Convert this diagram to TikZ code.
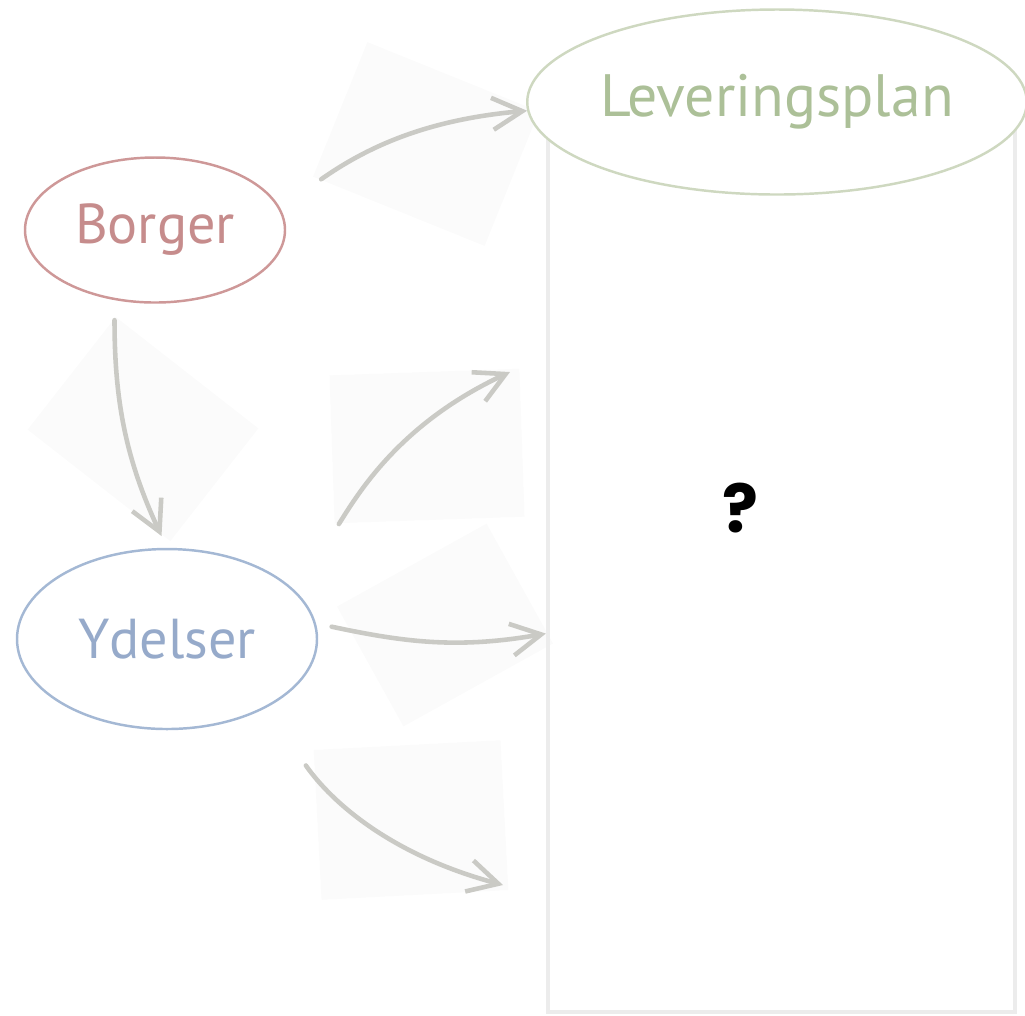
\documentclass[tikz,border=0pt]{standalone}
\usepackage{fontspec}
\newfontfamily\handfont{PT Sans}
\newfontfamily\markfont{Poppins}
\usetikzlibrary{positioning,shapes.geometric,arrows.meta}
\definecolor{borgerred}{RGB}{206,152,152}
\definecolor{borgertext}{RGB}{198,140,140}
\definecolor{plangreen}{RGB}{206,216,192}
\definecolor{plantext}{RGB}{172,192,152}
\definecolor{ydelseblue}{RGB}{164,184,212}
\definecolor{ydelsetext}{RGB}{150,170,202}
\definecolor{arrowgrey}{RGB}{202,202,197}
\definecolor{panelgrey}{RGB}{236,236,236}
\definecolor{patchgrey}{RGB}{251,251,251}
\tikzstyle{bubble} = [ellipse, draw, line width=0.7pt, inner sep=0pt, fill=white, font=\handfont\fontsize{16}{18}\selectfont]
\tikzstyle{flow} = [draw=arrowgrey, line width=1.3pt, line cap=round, -{Straight Barb[length=3mm,width=3.2mm]}]
\tikzstyle{patch} = [fill=patchgrey, inner sep=0pt]
\tikzstyle{panel} = [draw=panelgrey, line width=1.2pt, inner sep=0pt]

\begin{document}
\begin{tikzpicture}
	\useasboundingbox (0,0) rectangle (10.25,-10.15);
	\node[patch, rotate=-22, minimum width=1.85cm, minimum height=1.45cm] (p1) at (4.26,-1.44) {};
	\node[patch, rotate=-38, minimum width=1.81cm, minimum height=1.43cm] (p2) at (1.43,-4.29) {};
	\node[patch, rotate=2, minimum width=1.90cm, minimum height=1.48cm] (p3) at (4.27,-4.46) {};
	\node[patch, rotate=29, minimum width=1.71cm, minimum height=1.37cm] (p4) at (4.45,-6.25) {};
	\node[patch, rotate=3, minimum width=1.87cm, minimum height=1.50cm] (p5) at (4.11,-8.20) {};
	\node[panel, minimum width=4.67cm, minimum height=9.10cm] (box) at (7.815,-5.57) {};
	\node[font=\markfont\bfseries\fontsize{19}{22}\selectfont] (q) at (7.40,-5.08) {?};
	\node[bubble, draw=borgerred, text=borgertext, minimum width=2.6cm, minimum height=1.45cm] (borger) at (1.55,-2.30) {Borger};
	\node[bubble, draw=plangreen, text=plantext, minimum width=4.75cm, minimum height=1.85cm, font=\handfont\fontsize{17}{19}\selectfont] (plan) at (7.77,-1.02) {Leveringsplan};
	\node[bubble, draw=ydelseblue, text=ydelsetext, minimum width=3.0cm, minimum height=1.8cm] (ydelser) at (1.67,-6.39) {Ydelser};
	\coordinate (up) at (5.10,-3.72);
	\coordinate (down) at (5.03,-8.85);
	\draw[flow, shorten <=5mm] (borger.10) to[out=35, in=185] (plan.182);
	\draw[flow, shorten <=2mm, shorten >=1.3mm] (borger.-120) to[out=-90, in=115] (ydelser.north);
	\draw[flow, shorten <=8mm] (ydelser.20) to[out=58, in=205] (up);
	\draw[flow, shorten <=1.6mm] (ydelser.6) to[out=-12, in=190] (box.198);
	\draw[flow, shorten <=7mm] (ydelser.-35) to[out=-55, in=165] (down);
\end{tikzpicture}
\end{document}
